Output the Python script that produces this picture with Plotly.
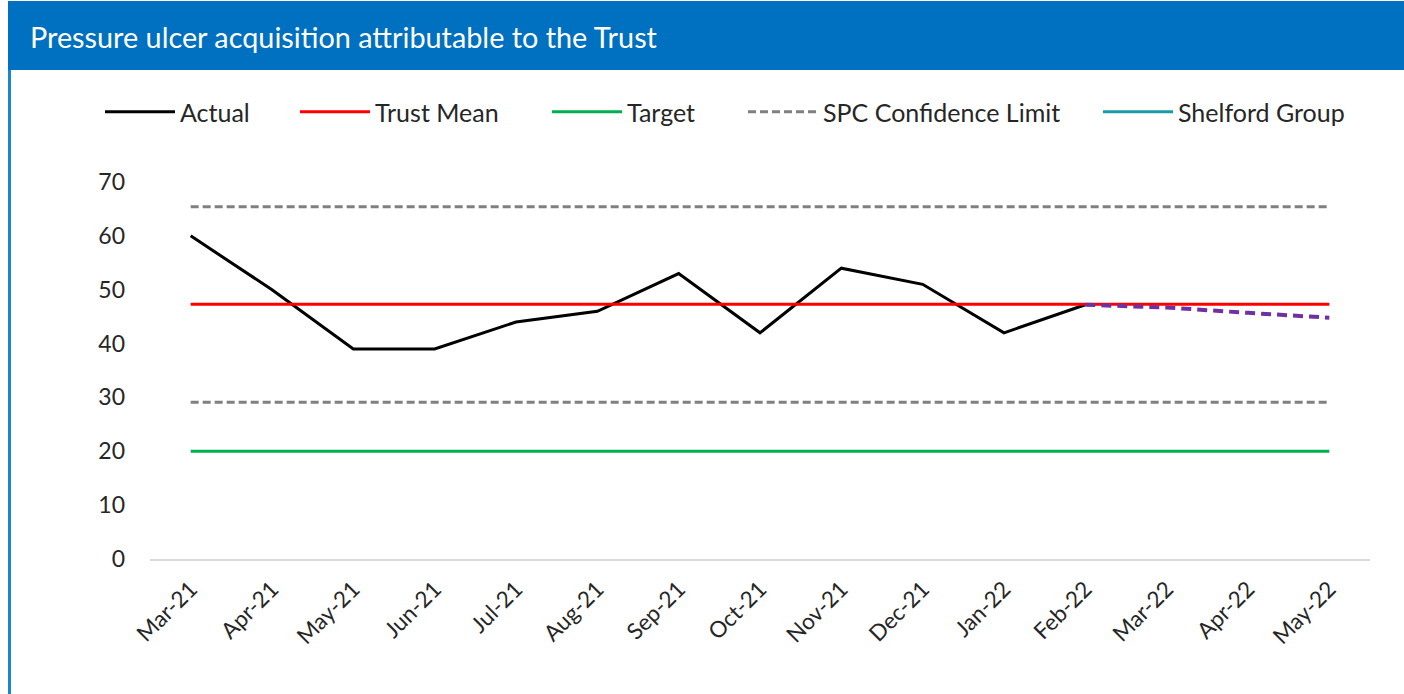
import plotly.graph_objects as go

months = ["Mar-21", "Apr-21", "May-21", "Jun-21", "Jul-21", "Aug-21", "Sep-21",
          "Oct-21", "Nov-21", "Dec-21", "Jan-22", "Feb-22", "Mar-22", "Apr-22", "May-22"]
actual = [60, 50, 39, 39, 44, 46, 53, 42, 54, 51, 42, 47.2, None, None, None]
trust_mean = [47.3] * 15
target = [20] * 15
spc_upper = [65.4] * 15
spc_lower = [29.1] * 15
forecast = [None] * 11 + [47.2, 46.7, 45.7, 44.8]
shelford = [None] * 15

FONT = "Lato"
fig = go.Figure()
fig.add_trace(go.Scatter(x=months, y=actual, name="Actual", mode="lines", legend="legend",
                         line=dict(color="#000000", width=3)))
fig.add_trace(go.Scatter(x=months, y=trust_mean, name="Trust Mean", mode="lines", legend="legend2",
                         line=dict(color="#FF0000", width=3)))
fig.add_trace(go.Scatter(x=months, y=target, name="Target", mode="lines", legend="legend3",
                         line=dict(color="#00B050", width=3)))
fig.add_trace(go.Scatter(x=months, y=spc_upper, name="SPC Confidence Limit", mode="lines",
                         legend="legend4", line=dict(color="#808080", width=3, dash="8px,4px")))
fig.add_trace(go.Scatter(x=months, y=spc_lower, name="SPC Confidence Limit", mode="lines",
                         showlegend=False, line=dict(color="#808080", width=3, dash="8px,4px")))
fig.add_trace(go.Scatter(x=months, y=shelford, name="Shelford Group", mode="lines", legend="legend5",
                         line=dict(color="#1A9BAA", width=3)))
fig.add_trace(go.Scatter(x=months, y=forecast, name="Forecast", mode="lines", showlegend=False,
                         line=dict(color="#7030A0", width=4, dash="10px,6px")))

W, H = 1404, 694
L, R, T, B = 150, 34, 182, 135
PW, PH = W - L - R, H - T - B


def px(x):
    return (x - L) / PW


def py(y):
    return 1 - (y - T) / PH


def legend_at(x0):
    return dict(orientation="h", xref="container", yref="container",
                x=x0 / W, y=1 - 89 / H, xanchor="left", yanchor="top",
                font=dict(size=25, color="#262626"), itemwidth=70,
                bgcolor="rgba(0,0,0,0)")


fig.update_layout(
    width=W, height=H,
    margin=dict(l=L, r=R, t=T, b=B, autoexpand=False),
    paper_bgcolor="white", plot_bgcolor="white",
    font=dict(family=FONT, color="#262626", size=20),
    showlegend=True,
    legend=legend_at(100),
    legend2=legend_at(295),
    legend3=legend_at(547),
    legend4=legend_at(743),
    legend5=legend_at(1098),
    xaxis=dict(type="category", range=[-0.5, 14.5], showgrid=False, showline=True,
               linecolor="#D9D9D9", linewidth=2, ticks="", tickangle=-45, ticklabelstandoff=6,
               tickfont=dict(size=22.5, color="#262626"), zeroline=False),
    yaxis=dict(range=[0, 70], dtick=10, showgrid=False, showline=False, zeroline=False,
               ticks="", ticklabelstandoff=24, tickfont=dict(size=23, color="#262626")),
    shapes=[
        dict(type="rect", xref="paper", yref="paper", x0=px(8), x1=px(W + 2),
             y0=py(70), y1=py(1), fillcolor="#0070C0", line=dict(width=0), layer="below"),
        dict(type="line", xref="paper", yref="paper", x0=px(9.5), x1=px(9.5),
             y0=py(70), y1=py(H + 2), line=dict(color="#1A85D0", width=3)),
    ],
    annotations=[
        dict(text="Pressure ulcer acquisition attributable to the Trust", xref="paper", yref="paper",
             x=px(28), y=py(37), xanchor="left", yanchor="middle", showarrow=False,
             font=dict(family=FONT, size=28.8, color="white")),
    ],
)
fig.write_html("out.html", config={"displayModeBar": False},
               post_script="document.body.style.margin='0';")
